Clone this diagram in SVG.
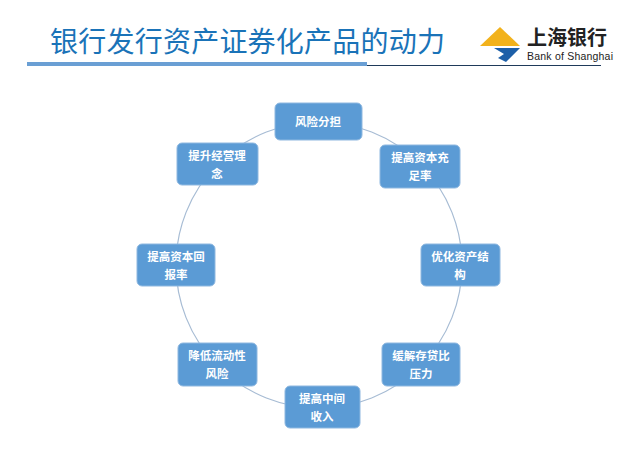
<svg xmlns="http://www.w3.org/2000/svg" width="636" height="475" viewBox="0 0 636 475">
<style>
.n rect{fill:#5b9bd5;stroke:#8fb8e0;stroke-width:1}
.n text{fill:#fff;font-family:"Noto Sans CJK SC",sans-serif;font-size:11.5px;font-weight:bold;text-anchor:middle}
</style>
<rect width="636" height="475" fill="#fff"/>
<text x="50" y="52" font-family="Noto Sans CJK SC,sans-serif" font-size="28" fill="#1a73b8" textLength="395">银行发行资产证券化产品的动力</text>
<rect x="27" y="62" width="340" height="4" fill="#6a9fd4"/>
<rect x="367" y="65" width="234" height="1" fill="#1f3a5a"/>
<g id="logo">
<polygon points="500,27 520,46 480,46" fill="#f2b21c"/>
<polygon points="494,48 520,48 506,62 498,58 504,54" fill="#1d5fa8"/>
<text x="527" y="45" font-family="Noto Sans CJK SC,sans-serif" font-size="20" font-weight="bold" fill="#222">上海银行</text>
<text x="527" y="60" font-family="Liberation Sans,sans-serif" font-size="10.5" fill="#222" textLength="86">Bank of Shanghai</text>
</g>
<g id="connectors"><circle cx="319" cy="265" r="143" fill="none" stroke="#a7bcd4" stroke-width="1.2"/></g>
<g id="n1" class="n"><rect x="275" y="103" width="87" height="37" rx="5"/><text x="318" y="126">风险分担</text></g>
<g id="n2" class="n"><rect x="380" y="145" width="80" height="43" rx="5"/><text x="420" y="162">提高资本充</text><text x="420" y="180">足率</text></g>
<g id="n3" class="n"><rect x="421" y="244" width="79" height="42" rx="5"/><text x="460" y="261">优化资产结</text><text x="460" y="279">构</text></g>
<g id="n4" class="n"><rect x="382" y="343" width="78" height="43" rx="5"/><text x="421" y="360">缓解存贷比</text><text x="421" y="378">压力</text></g>
<g id="n5" class="n"><rect x="285" y="386" width="75" height="42" rx="5"/><text x="322" y="403">提高中间</text><text x="322" y="421">收入</text></g>
<g id="n6" class="n"><rect x="178" y="343" width="79" height="43" rx="5"/><text x="217" y="360">降低流动性</text><text x="217" y="378">风险</text></g>
<g id="n7" class="n"><rect x="137" y="244" width="78" height="42" rx="5"/><text x="176" y="261">提高资本回</text><text x="176" y="279">报率</text></g>
<g id="n8" class="n"><rect x="177" y="143" width="81" height="42" rx="5"/><text x="217" y="160">提升经营理</text><text x="217" y="178">念</text></g>
</svg>
